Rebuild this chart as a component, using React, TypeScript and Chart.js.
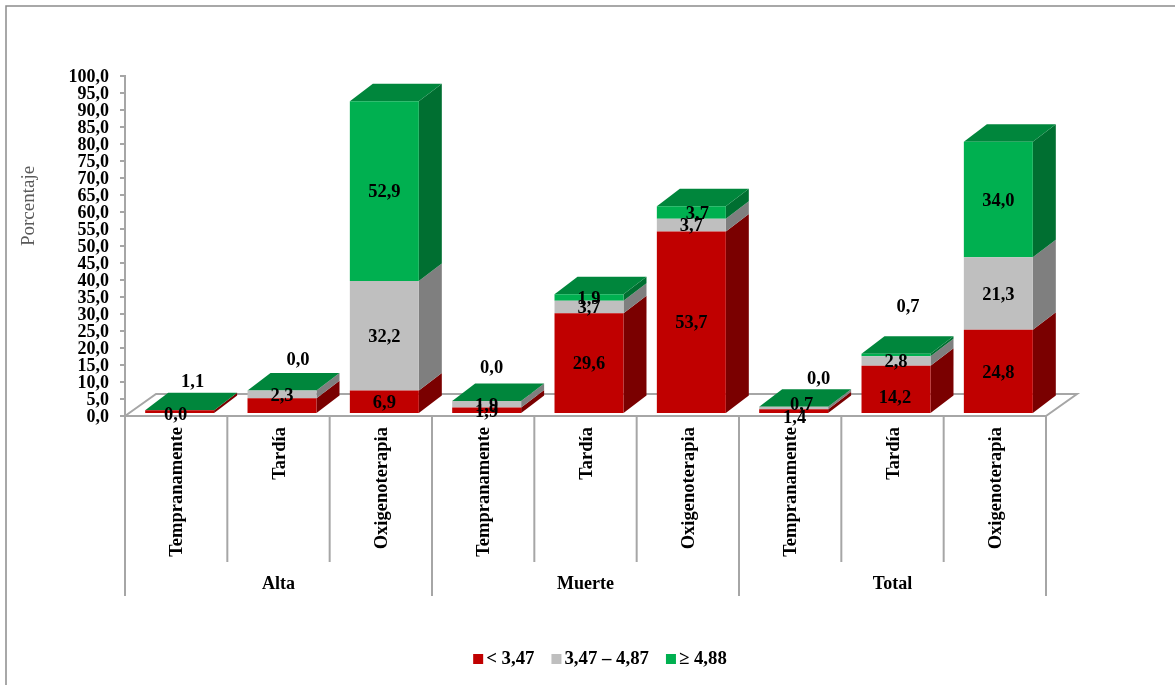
import React, { useEffect, useRef } from "react";
import { Chart, registerables } from "chart.js";

Chart.register(...registerables);

const categories = [
  "Tempranamente", "Tardía", "Oxigenoterapia",
  "Tempranamente", "Tardía", "Oxigenoterapia",
  "Tempranamente", "Tardía", "Oxigenoterapia",
];
const groups = ["Alta", "Muerte", "Total"];

const lowValues = [1.1, 4.6, 6.9, 1.9, 29.6, 53.7, 1.4, 14.2, 24.8];
const midValues = [0.0, 2.3, 32.2, 1.9, 3.7, 3.7, 0.7, 2.8, 21.3];
const highValues = [0.0, 0.0, 52.9, 0.0, 1.9, 3.7, 0.0, 0.7, 34.0];

const seriesNames = ["< 3,47", "3,47 – 4,87", "≥ 4,88"];
const frontColors = ["#C00000", "#BFBFBF", "#00B050"];
const sideColors = ["#7A0000", "#7F7F7F", "#006F31"];
const topColor = "#00863C";
const axisColor = "#A6A6A6";

const FONT = '"Liberation Serif", serif';
const DEPTH_X = 23;
const DEPTH_Y = 17.5;
const FLOOR_X = 31;
const FLOOR_Y = 22;

// Value labels the chart leaves out: "series:category".
const omittedLabels = new Set(["0:1", "2:0"]);

// Labels moved off their segment so the thin ones stay readable.
const labelNudges: Record<string, [number, number]> = {
  "0:0": [13, -31],
  "1:0": [-4, 3],
  "2:1": [16, -32],
  "2:3": [5, -34],
  "2:5": [6, 0],
  "0:6": [1, 6],
  "1:6": [8, -4],
  "2:6": [25, -29],
  "0:7": [-1, 7],
  "2:7": [12, -49],
};

const decimal = (v: number) => v.toFixed(1).replace(".", ",");

const pseudo3d = {
  id: "pseudo3d",
  afterDatasetsUpdate(chart: any) {
    // Front faces sit slightly inside the floor, as in a 3D column chart.
    chart.data.datasets.forEach((_: any, d: number) => {
      chart.getDatasetMeta(d).data.forEach((bar: any) => {
        bar.x += 3.5;
        bar.y -= 2;
        bar.base -= 2;
      });
    });
  },
  beforeDraw(chart: any) {
    const { ctx, width, height } = chart;
    ctx.save();
    ctx.strokeStyle = "#8C8C8C";
    ctx.lineWidth = 1.5;
    ctx.beginPath();
    ctx.moveTo(6, height);
    ctx.lineTo(6, 6);
    ctx.lineTo(width, 6);
    ctx.stroke();
    ctx.restore();
  },
  beforeDatasetsDraw(chart: any) {
    const { ctx, scales, chartArea } = chart;
    const { left, right, bottom } = chartArea;
    const catWidth = (right - left) / categories.length;

    ctx.save();
    // Floor outline
    ctx.strokeStyle = axisColor;
    ctx.lineWidth = 2;
    ctx.beginPath();
    ctx.moveTo(left, bottom);
    ctx.lineTo(left + FLOOR_X, bottom - FLOOR_Y);
    ctx.lineTo(right + FLOOR_X, bottom - FLOOR_Y);
    ctx.lineTo(right, bottom);
    ctx.stroke();

    // Category and group separators below the axis
    categories.forEach((_, i) => {
      const x = scales.x.getPixelForValue(i) - catWidth / 2;
      ctx.beginPath();
      ctx.moveTo(x, bottom);
      ctx.lineTo(x, bottom + (i % 3 === 0 ? 180 : 146));
      ctx.stroke();
    });
    ctx.beginPath();
    ctx.moveTo(right, bottom);
    ctx.lineTo(right, bottom + 180);
    ctx.stroke();

    // Side faces of each stacked segment, then the lid of each column
    chart.data.datasets.forEach((_: any, d: number) => {
      ctx.fillStyle = sideColors[d];
      chart.getDatasetMeta(d).data.forEach((bar: any) => {
        const r = bar.x + bar.width / 2;
        if (Math.abs(bar.base - bar.y) < 0.01) return;
        ctx.beginPath();
        ctx.moveTo(r, bar.base);
        ctx.lineTo(r + DEPTH_X, bar.base - DEPTH_Y);
        ctx.lineTo(r + DEPTH_X, bar.y - DEPTH_Y);
        ctx.lineTo(r, bar.y);
        ctx.closePath();
        ctx.fill();
      });
    });
    const topMeta = chart.getDatasetMeta(chart.data.datasets.length - 1);
    ctx.fillStyle = topColor;
    topMeta.data.forEach((bar: any) => {
      const l = bar.x - bar.width / 2;
      const r = bar.x + bar.width / 2;
      ctx.beginPath();
      ctx.moveTo(l, bar.y);
      ctx.lineTo(r, bar.y);
      ctx.lineTo(r + DEPTH_X, bar.y - DEPTH_Y);
      ctx.lineTo(l + DEPTH_X, bar.y - DEPTH_Y);
      ctx.closePath();
      ctx.fill();
    });
    ctx.restore();
  },
  afterDatasetsDraw(chart: any) {
    const { ctx, scales, chartArea } = chart;
    ctx.save();
    ctx.fillStyle = "#000";
    ctx.textAlign = "center";
    ctx.textBaseline = "middle";

    // Value labels
    ctx.font = `bold 18.5px ${FONT}`;
    chart.data.datasets.forEach((ds: any, d: number) => {
      chart.getDatasetMeta(d).data.forEach((bar: any, i: number) => {
        const key = `${d}:${i}`;
        if (omittedLabels.has(key)) return;
        const [dx, dy] = labelNudges[key] ?? [0, 0];
        ctx.fillText(decimal(ds.data[i]), bar.x + dx, (bar.y + bar.base) / 2 + dy + 1.5);
      });
    });

    // Group names under each three-category block
    ctx.font = `bold 18px ${FONT}`;
    groups.forEach((g, i) => {
      ctx.fillText(g, scales.x.getPixelForValue(i * 3 + 1), chartArea.bottom + 168.5);
    });

    // Value axis title
    ctx.save();
    ctx.translate(29, 206);
    ctx.rotate(-Math.PI / 2);
    ctx.fillStyle = "#595959";
    ctx.font = `19px ${FONT}`;
    ctx.fillText("Porcentaje", 0, 0);
    ctx.restore();

    // Legend row
    ctx.font = `bold 18.8px ${FONT}`;
    ctx.textAlign = "left";
    const y = 659;
    const items = chart.data.datasets.map((ds: any) => ds.label);
    const widths = items.map((t: string) => ctx.measureText(t).width);
    const total = widths.reduce((a: number, b: number) => a + 13 + b, 0) + 17 * 2;
    let x = 600 - total / 2;
    items.forEach((t: string, i: number) => {
      ctx.fillStyle = frontColors[i];
      ctx.fillRect(x, y - 5, 10, 10);
      ctx.fillStyle = "#000";
      ctx.fillText(t, x + 13, y);
      x += 13 + widths[i] + 17;
    });
    ctx.restore();
  },
};

export default function App() {
  const canvasRef = useRef<HTMLCanvasElement>(null);

  useEffect(() => {
    document.body.style.margin = "0";
    const chart = new Chart(canvasRef.current as HTMLCanvasElement, {
      type: "bar",
      data: {
        labels: categories,
        datasets: [lowValues, midValues, highValues].map((data, d) => ({
          label: seriesNames[d],
          data,
          backgroundColor: frontColors[d],
          borderWidth: 0,
          barPercentage: 0.674,
          categoryPercentage: 1,
        })),
      },
      options: {
        responsive: false,
        animation: false,
        layout: { padding: { left: 0, top: 76, right: 129, bottom: 0 } },
        plugins: { legend: { display: false }, title: { display: false }, tooltip: { enabled: false } },
        scales: {
          x: {
            stacked: true,
            afterFit(scale: any) {
              scale.height = 269;
            },
            grid: { display: true, drawOnChartArea: false, drawTicks: false, color: axisColor },
            border: { color: axisColor, width: 2 },
            ticks: {
              autoSkip: false,
              minRotation: 90,
              maxRotation: 90,
              padding: 11,
              labelOffset: 1.5,
              color: "#000",
              font: { family: FONT, size: 18.5, weight: "bold" },
            },
          },
          y: {
            stacked: true,
            min: 0,
            max: 100,
            afterFit(scale: any) {
              scale.width = 125;
            },
            grid: { drawOnChartArea: false, tickLength: 5, color: axisColor, lineWidth: 2 },
            border: { color: axisColor, width: 2 },
            ticks: {
              stepSize: 5,
              autoSkip: false,
              padding: 11,
              labelOffset: 1,
              color: "#000",
              font: { family: FONT, size: 18, weight: "bold" },
              callback: (v: any) => decimal(Number(v)),
            },
          },
        },
      },
      plugins: [pseudo3d],
    } as any);
    return () => chart.destroy();
  }, []);

  return <canvas ref={canvasRef} width={1175} height={685} style={{ display: "block" }} />;
}
